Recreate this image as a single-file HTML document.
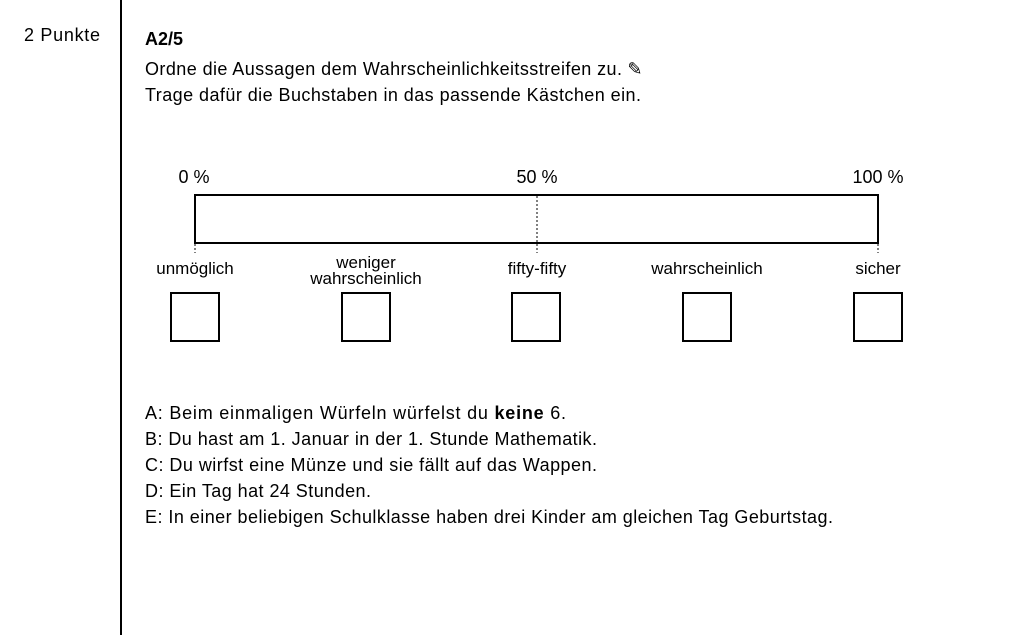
<!DOCTYPE html>
<html><head><meta charset="utf-8"><style>
html,body{margin:0;padding:0;background:#fff;}
svg{display:block;font-family:"Liberation Sans",Arial,sans-serif;}
</style></head><body>
<svg width="1024" height="635" viewBox="0 0 1024 635" xmlns="http://www.w3.org/2000/svg">
<rect width="1024" height="635" fill="#fff"/>
<line x1="121" y1="0" x2="121" y2="635" stroke="#000" stroke-width="2"/>
<text x="24" y="41" font-size="18" textLength="76" fill="#000">2 Punkte</text>
<text x="145" y="45" font-size="18" font-weight="bold" fill="#000">A2/5</text>
<text x="145" y="75" font-size="18" fill="#000"><tspan textLength="477">Ordne die Aussagen dem Wahrscheinlichkeitsstreifen zu.</tspan> ✎</text>
<text x="145" y="101" font-size="18" textLength="496" fill="#000">Trage dafür die Buchstaben in das passende Kästchen ein.</text>
<text x="194" y="183" font-size="18" text-anchor="middle">0 %</text>
<text x="537" y="183" font-size="18" text-anchor="middle">50 %</text>
<text x="878" y="183" font-size="18" text-anchor="middle">100 %</text>
<rect x="195" y="195" width="683" height="48" fill="none" stroke="#000" stroke-width="2"/>
<line x1="537" y1="196" x2="537" y2="253" stroke="#000" stroke-width="1" stroke-dasharray="2,2"/>
<line x1="195" y1="244" x2="195" y2="253" stroke="#000" stroke-width="1" stroke-dasharray="2,2"/>
<line x1="878" y1="244" x2="878" y2="253" stroke="#000" stroke-width="1" stroke-dasharray="2,2"/>
<g font-size="17" text-anchor="middle">
<text x="195" y="274">unmöglich</text>
<text x="366" y="268">weniger</text>
<text x="366" y="284">wahrscheinlich</text>
<text x="537" y="274">fifty-fifty</text>
<text x="707" y="274">wahrscheinlich</text>
<text x="878" y="274">sicher</text>
</g>
<g fill="none" stroke="#000" stroke-width="2">
<rect x="171" y="293" width="48" height="48"/>
<rect x="342" y="293" width="48" height="48"/>
<rect x="512" y="293" width="48" height="48"/>
<rect x="683" y="293" width="48" height="48"/>
<rect x="854" y="293" width="48" height="48"/>
</g>
<g font-size="18">
<text x="145" y="419" textLength="421">A: Beim einmaligen Würfeln würfelst du <tspan font-weight="bold">keine</tspan> 6.</text>
<text x="145" y="445" textLength="452">B: Du hast am 1. Januar in der 1. Stunde Mathematik.</text>
<text x="145" y="471" textLength="452">C: Du wirfst eine Münze und sie fällt auf das Wappen.</text>
<text x="145" y="497" textLength="226">D: Ein Tag hat 24 Stunden.</text>
<text x="145" y="523" textLength="688">E: In einer beliebigen Schulklasse haben drei Kinder am gleichen Tag Geburtstag.</text>
</g>
</svg>
</body></html>
